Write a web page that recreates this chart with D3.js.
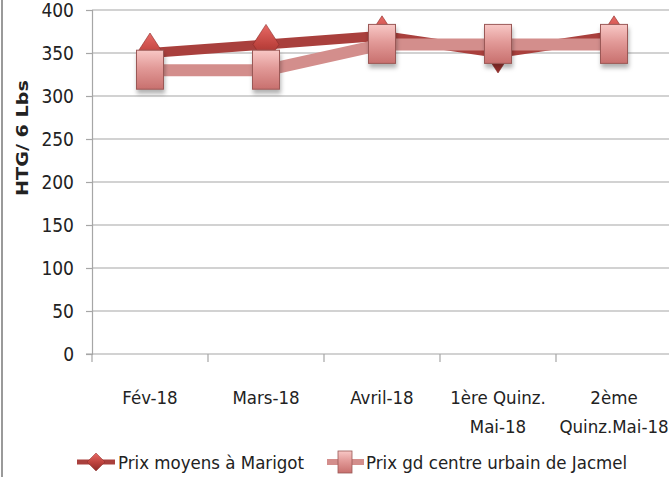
<!DOCTYPE html>
<html>
<head>
<meta charset="utf-8">
<script src="https://cdn.jsdelivr.net/npm/d3@7"></script>
<style>
  body { margin: 0; background: #fff; }
  svg text { font-family: 'Liberation Sans Narrow', 'DejaVu Sans Condensed', 'Open Sans', sans-serif; fill: #222; }
</style>
</head>
<body>
<div id="chart"></div>
<script>
// chart values
const categories = [['Fév-18'], ['Mars-18'], ['Avril-18'], ['1ère Quinz.', 'Mai-18'], ['2ème', 'Quinz.Mai-18']];
const marigot = [350, 360, 370, 350, 370];
const jacmel = [330, 330, 360, 360, 360];
const yTicks = [0, 50, 100, 150, 200, 250, 300, 350, 400];
const seriesNames = ['Prix moyens à Marigot', 'Prix gd centre urbain de Jacmel'];

const W = 669, H = 477;
const margin = { top: 10, right: -3, bottom: 123, left: 92 };
const width = W - margin.left - margin.right;
const height = H - margin.top - margin.bottom;

const svg = d3.select('#chart').append('svg')
    .attr('width', W)
    .attr('height', H);

const defs = svg.append('defs');

const gDia = defs.append('linearGradient').attr('id', 'gDia')
    .attr('x1', 0).attr('y1', 0).attr('x2', 0).attr('y2', 1);
gDia.append('stop').attr('offset', '0%').attr('stop-color', '#e86a66');
gDia.append('stop').attr('offset', '50%').attr('stop-color', '#c0443f');
gDia.append('stop').attr('offset', '100%').attr('stop-color', '#8e2a27');

const gSq = defs.append('linearGradient').attr('id', 'gSq')
    .attr('x1', 0).attr('y1', 0).attr('x2', 0).attr('y2', 1);
gSq.append('stop').attr('offset', '0%').attr('stop-color', '#f8c8c6');
gSq.append('stop').attr('offset', '45%').attr('stop-color', '#e29a98');
gSq.append('stop').attr('offset', '100%').attr('stop-color', '#c8706e');

const shadow = defs.append('filter').attr('id', 'shadow')
    .attr('x', '-50%').attr('y', '-50%').attr('width', '200%').attr('height', '200%');
shadow.append('feDropShadow').attr('dx', 1).attr('dy', 4).attr('stdDeviation', 2)
    .attr('flood-color', '#000').attr('flood-opacity', 0.3);

// outer frame edge on the left
svg.append('line')
    .attr('x1', 2).attr('x2', 2).attr('y1', 0).attr('y2', H)
    .attr('stroke', '#9a9a9a').attr('stroke-width', 2);

// title (mostly cut off at the top, as in the source picture)
svg.append('text')
    .attr('x', 390).attr('y', -3)
    .attr('text-anchor', 'middle')
    .style('font-family', 'Arial, sans-serif')
    .style('font-weight', 'bold')
    .style('font-size', '16px')
    .text('Evolution du riz local par rapport au marché de Marigot');

const g = svg.append('g')
    .attr('transform', `translate(${margin.left},${margin.top})`);

const x = d3.scaleBand()
    .domain(d3.range(categories.length))
    .range([0, 580]);

const y = d3.scaleLinear()
    .domain([0, 400])
    .range([height, 0]);

// gridlines
g.append('g')
    .selectAll('line')
    .data(yTicks.slice(1))
    .join('line')
    .attr('x1', 0).attr('x2', width)
    .attr('y1', d => y(d)).attr('y2', d => y(d))
    .attr('stroke', '#a6a6a6').attr('stroke-width', 1.2);

// y axis
const yAxis = g.append('g')
    .call(d3.axisLeft(y).tickValues(yTicks).tickSize(6).tickPadding(12));
yAxis.select('.domain').attr('stroke', '#a6a6a6').attr('stroke-width', 1.2);
yAxis.selectAll('.tick line').attr('stroke', '#a6a6a6').attr('stroke-width', 1.2);
yAxis.selectAll('.tick text').style('font-size', '19px').attr('fill', '#222');

// x axis
const xAxis = g.append('g')
    .attr('transform', `translate(0,${height})`)
    .call(d3.axisBottom(x).tickSize(0).tickFormat(''));
xAxis.select('.domain').attr('stroke', '#a6a6a6').attr('stroke-width', 1.2)
    .attr('d', `M-6,0H${width}`);
xAxis.selectAll('.tick').remove();

xAxis.append('g')
    .selectAll('line')
    .data(d3.range(categories.length + 1))
    .join('line')
    .attr('x1', d => d * x.step()).attr('x2', d => d * x.step())
    .attr('y1', 0).attr('y2', 8)
    .attr('stroke', '#a6a6a6').attr('stroke-width', 1.2);

const xLabels = g.append('g').selectAll('text')
    .data(categories)
    .join('text')
    .attr('text-anchor', 'middle')
    .attr('transform', (d, i) => `translate(${x(i) + x.bandwidth() / 2},${height + 50})`)
    .style('font-size', '18.5px');
xLabels.selectAll('tspan')
    .data(d => d)
    .join('tspan')
    .attr('x', 0)
    .attr('dy', (d, i) => i === 0 ? 0 : 29)
    .text(d => d);

// y axis title
svg.append('text')
    .attr('transform', 'translate(28,138) rotate(-90)')
    .attr('text-anchor', 'middle')
    .attr('textLength', 116)
    .attr('lengthAdjust', 'spacingAndGlyphs')
    .style('font-family', "'DejaVu Sans', sans-serif")
    .style('font-weight', 'bold')
    .style('font-size', '15px')
    .text('HTG/ 6 Lbs');

const cx = i => x(i) + x.bandwidth() / 2;
const line = d3.line().x((d, i) => cx(i)).y(d => y(d));

const diamond = (w, h) => `M0,${-h / 2}L${w / 2},0L0,${h / 2}L${-w / 2},0Z`;

// Marigot series
g.append('path')
    .datum(marigot)
    .attr('d', line)
    .attr('fill', 'none')
    .attr('stroke', '#a9403d')
    .attr('stroke-width', 10);

g.append('g').selectAll('path')
    .data(marigot)
    .join('path')
    .attr('transform', (d, i) => `translate(${cx(i)},${y(d)})`)
    .attr('d', diamond(26, 40))
    .attr('fill', 'url(#gDia)')
    .attr('stroke', '#8a2c29')
    .attr('stroke-width', 0.6);

// Jacmel series
g.append('path')
    .datum(jacmel)
    .attr('d', line)
    .attr('fill', 'none')
    .attr('stroke', '#d38e8c')
    .attr('stroke-width', 12);

g.append('g').selectAll('rect')
    .data(jacmel)
    .join('rect')
    .attr('x', (d, i) => cx(i) - 13.5)
    .attr('y', d => y(d) - 20)
    .attr('width', 27)
    .attr('height', 39)
    .attr('fill', 'url(#gSq)')
    .attr('stroke', '#9a5856')
    .attr('stroke-width', 1)
    .attr('filter', 'url(#shadow)');

// legend
const legend = svg.append('g').attr('transform', 'translate(0,462)');

legend.append('line')
    .attr('x1', 77).attr('x2', 115).attr('y1', 0).attr('y2', 0)
    .attr('stroke', '#a9403d').attr('stroke-width', 5);
legend.append('path')
    .attr('transform', 'translate(96,0)')
    .attr('d', diamond(18, 18))
    .attr('fill', 'url(#gDia)')
    .attr('stroke', '#8a2c29').attr('stroke-width', 0.5);
legend.append('text')
    .attr('x', 118).attr('y', 7)
    .style('font-size', '18.5px')
    .text(seriesNames[0]);

legend.append('line')
    .attr('x1', 327).attr('x2', 364).attr('y1', 0).attr('y2', 0)
    .attr('stroke', '#d38e8c').attr('stroke-width', 6);
legend.append('rect')
    .attr('x', 338).attr('y', -11)
    .attr('width', 14).attr('height', 22)
    .attr('fill', 'url(#gSq)')
    .attr('stroke', '#9a5856').attr('stroke-width', 0.8);
legend.append('text')
    .attr('x', 366).attr('y', 7)
    .style('font-size', '18.5px')
    .text(seriesNames[1]);
</script>
</body>
</html>
